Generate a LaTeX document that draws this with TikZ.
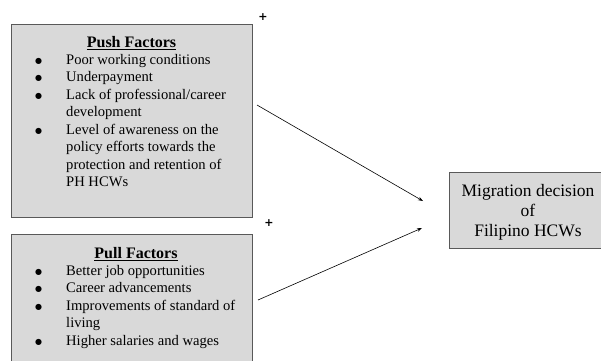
\documentclass[tikz,border=0pt]{standalone}
\usepackage{fontspec}
\setmainfont{Liberation Serif}
\newfontfamily\symfont{DejaVu Sans}
\usetikzlibrary{arrows.meta}
\definecolor{boxfill}{HTML}{D9D9D9}
\definecolor{boxline}{HTML}{595959}
\newcommand{\blt}{\hspace{2pt}\raisebox{1.2pt}{\symfont\fontsize{8}{8}\selectfont ●}}
\tikzset{
  factorbox/.style={draw=boxline, fill=boxfill, line width=0.9pt},
  listtext/.style={anchor=north west, inner sep=0pt, align=left, font=\fontsize{14.6}{17.5}\selectfont},
  headtext/.style={inner sep=0pt, font=\fontsize{16}{17.5}\selectfont\bfseries},
  conn/.style={-{Stealth[length=5pt,width=3.5pt]}, line width=0.6pt},
  plussign/.style={inner sep=0pt, font=\symfont\fontsize{11}{11}\selectfont\bfseries}
}
\begin{document}
\begin{tikzpicture}[x=1pt,y=-1pt]
\useasboundingbox (0,0) rectangle (601,360);
\begin{scope}
\clip (0,0) rectangle (601,360);
% boxes
\path[factorbox] (11,24) rectangle (252,217);
\path[factorbox] (11,234) rectangle (252,380);
\path[factorbox] (449,172) rectangle (605,248);
\end{scope}
\node[inner sep=0pt] (push) at (131.5,120.5) {};
\node[inner sep=0pt] (pull) at (131.5,300) {};
\node[inner sep=0pt] (mig) at (527,210) {};
% push content
\node[headtext] (pushhead) at (131.5,43) {\underline{Push Factors}};
\node[listtext] (pushlist) at (33,52) {%
\begin{tabular}{@{}p{33pt}@{}l@{}}
\blt & Poor working conditions\\
\blt & Underpayment\\
\blt & Lack of professional/career\\
 & development\\
\blt & Level of awareness on the\\
 & policy efforts towards the\\
 & protection and retention of\\
 & PH HCWs
\end{tabular}};
% pull content
\node[headtext] (pullhead) at (136,254) {\underline{Pull Factors}};
\node[listtext] (pulllist) at (33,263) {%
\begin{tabular}{@{}p{33pt}@{}l@{}}
\blt & Better job opportunities\\
\blt & Career advancements\\
\blt & Improvements of standard of\\
 & living\\
\blt & Higher salaries and wages
\end{tabular}};
% migration text
\node[inner sep=0pt, align=center, font=\fontsize{17.5}{20}\selectfont] (migtext) at (528,212) {Migration decision\\of\\Filipino HCWs};
% plus signs
\node[plussign] (plus1) at (263,17) {+};
\node[plussign] (plus2) at (269,223) {+};
% connectors
\coordinate (s1) at (257,105);
\coordinate (e1) at (423,201);
\coordinate (s2) at (258,300);
\coordinate (e2) at (422,228);
\draw[conn] (s1) -- (e1);
\draw[conn] (s2) -- (e2);
\end{tikzpicture}
\end{document}
